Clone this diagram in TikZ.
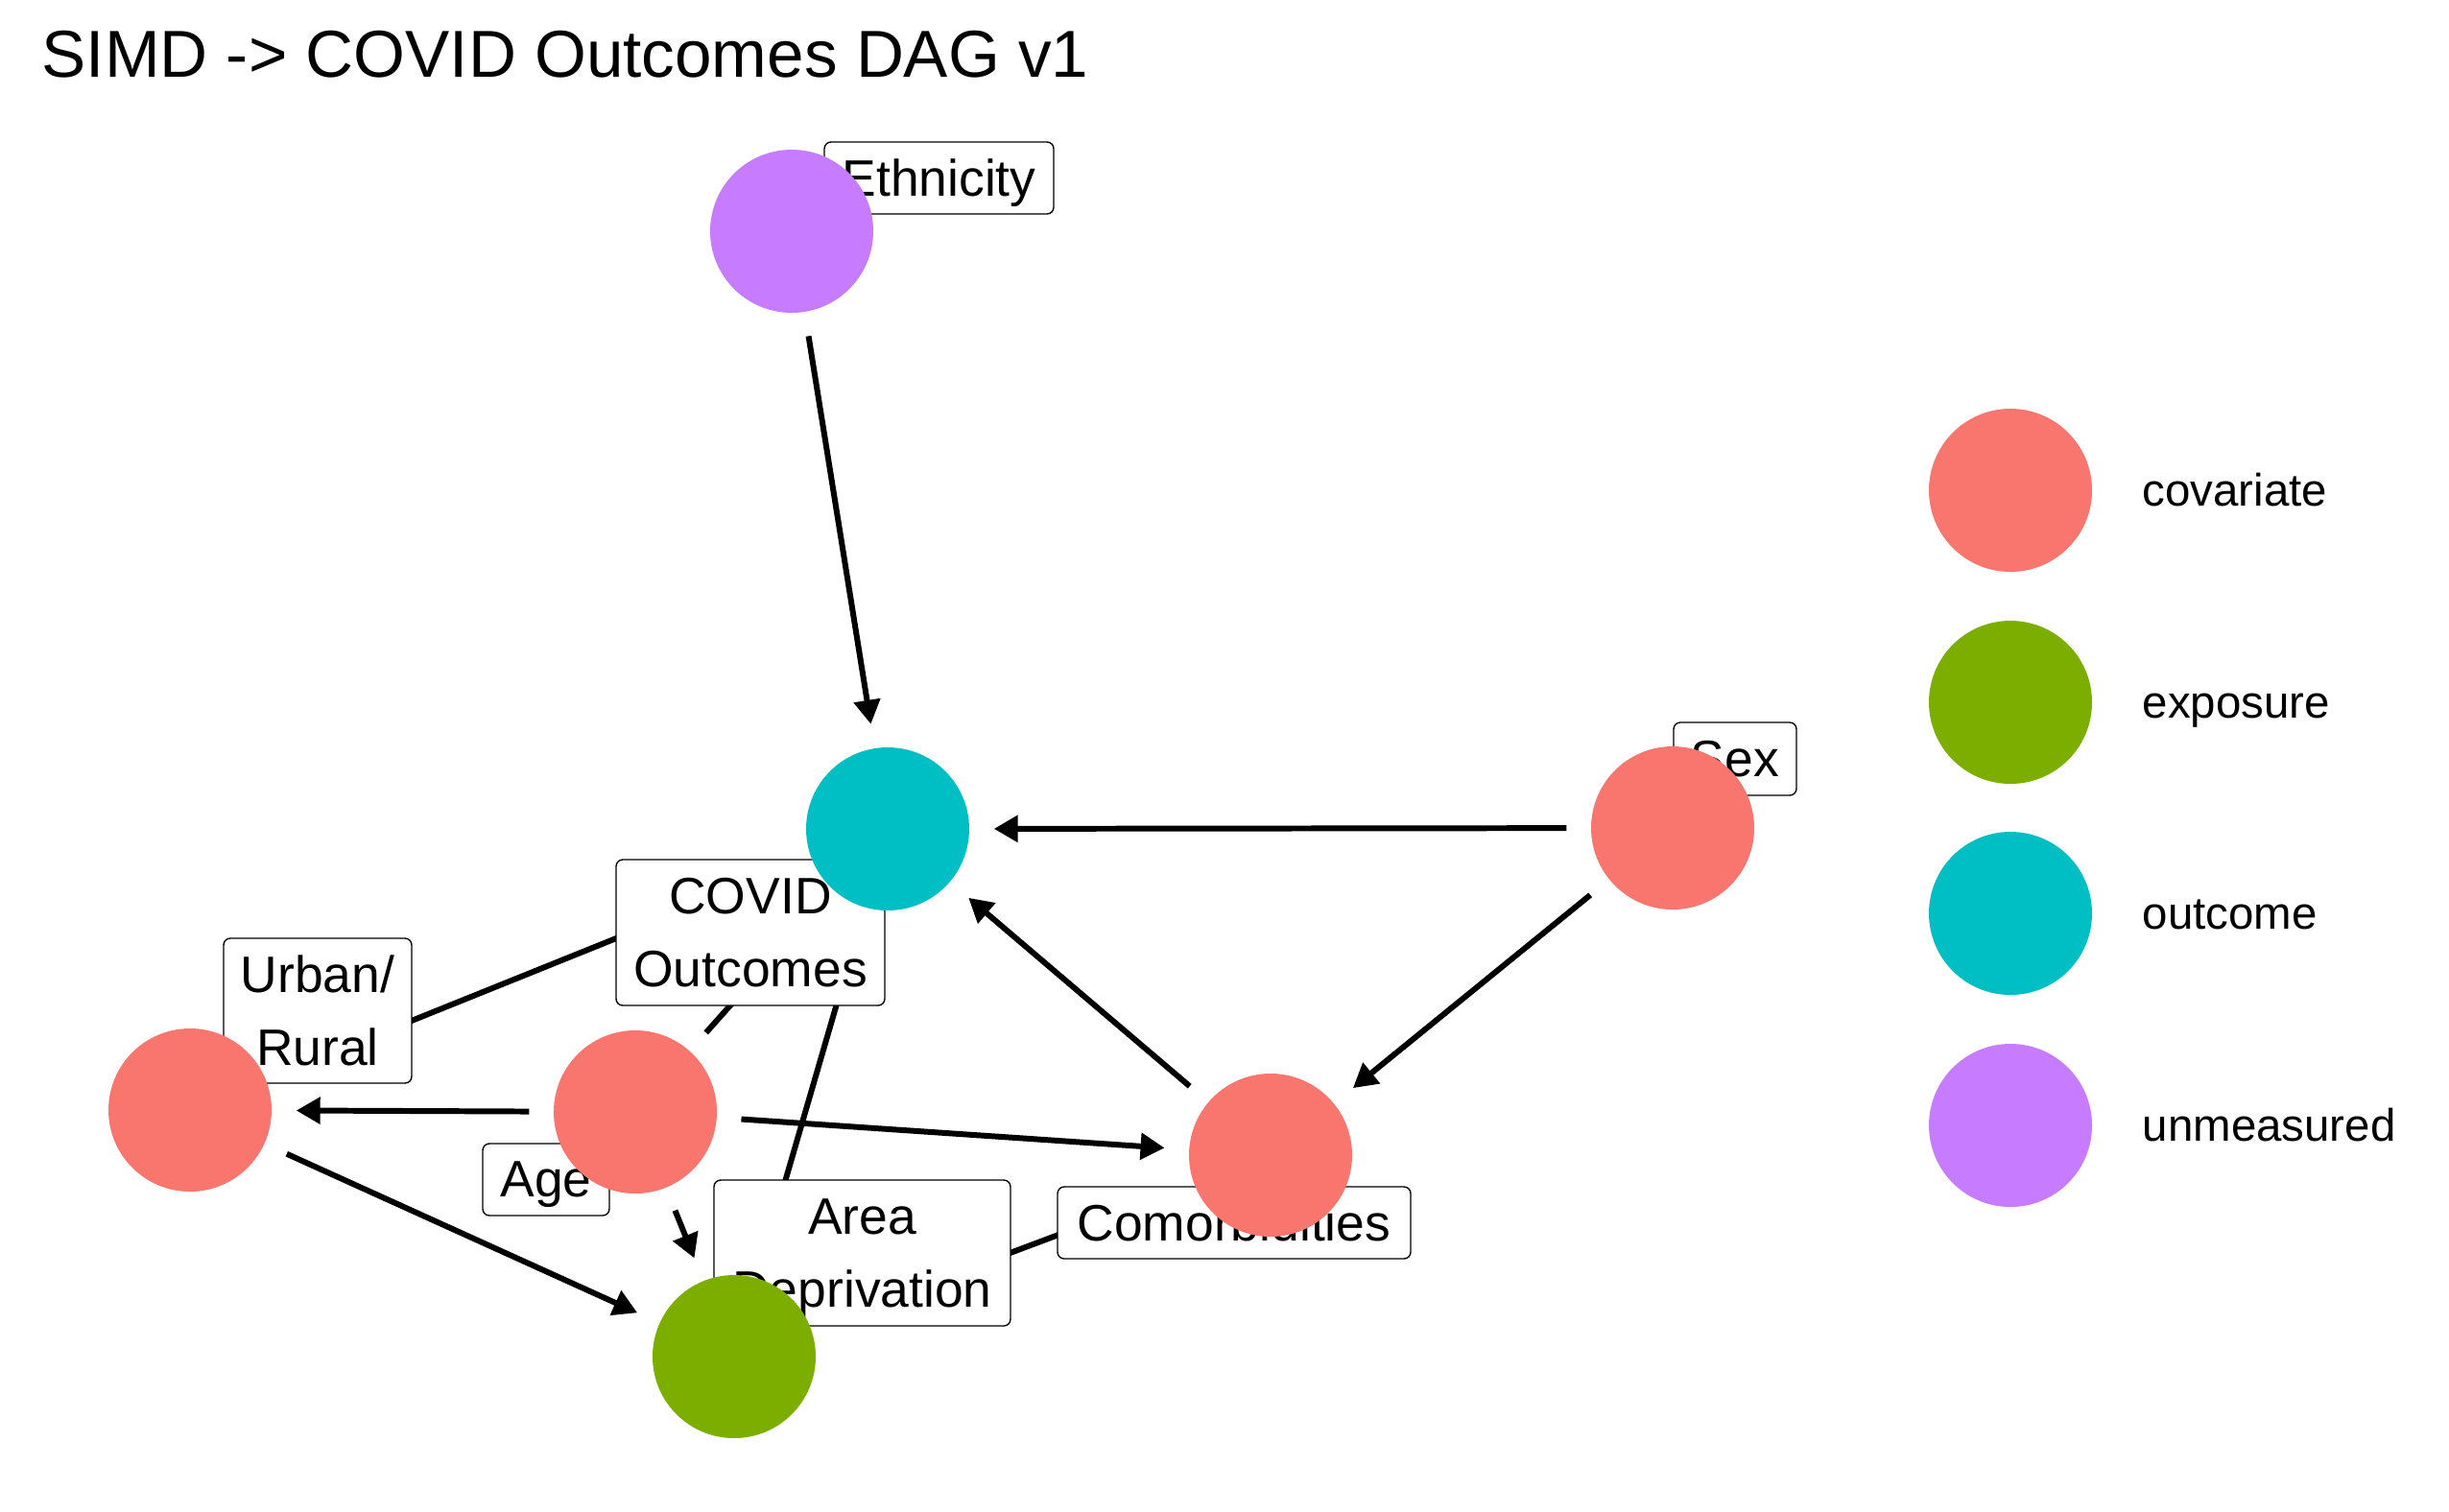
\documentclass[tikz,border=0pt]{standalone}
\usepackage{fontspec}
\setmainfont{Liberation Sans}
\definecolor{Covariate}{HTML}{F8766D}
\definecolor{Exposure}{HTML}{7CAE00}
\definecolor{Outcome}{HTML}{00BFC4}
\definecolor{Unmeasured}{HTML}{C77CFF}
\usetikzlibrary{arrows.meta, positioning}
\pgfdeclarelayer{edges}
\pgfdeclarelayer{labels}
\pgfsetlayers{edges,labels,main}

\begin{document}
\begin{tikzpicture}[
                dag/.style={circle, minimum size=1.7cm, inner sep=0pt},
                lbl/.style={draw, rounded corners=0.07cm, fill=white, line width=0.4pt, inner sep=0pt, align=center, font=\fontsize{15.2}{21.6}\selectfont},
                oneline/.style={text depth=0pt},
                edge/.style={-{Triangle[length=0.25cm, width=0.27cm]}, line width=1.7pt, shorten <=0.25cm, shorten >=0.25cm},
                key/.style={anchor=base west, inner sep=0pt, font=\fontsize{13.5}{16}\selectfont}]

                \useasboundingbox (0,0) rectangle (25.52,-15.75);

                % Title
                \node[anchor=base west, inner sep=0pt, font=\fontsize{19.7}{23}\selectfont] (title) at (0.43,-0.80) {SIMD -> COVID Outcomes DAG v1};

                % DAG nodes
                \node[dag, fill=Unmeasured] (eth) at (8.25,-2.41) {};
                \node[dag, fill=Outcome] (covid) at (9.25,-8.64) {};
                \node[dag, fill=Covariate] (sex) at (17.43,-8.63) {};
                \node[dag, fill=Covariate] (comorb) at (13.24,-12.04) {};
                \node[dag, fill=Covariate] (age) at (6.62,-11.59) {};
                \node[dag, fill=Covariate] (urban) at (1.98,-11.57) {};
                \node[dag, fill=Exposure] (simd) at (7.65,-14.14) {};

                % Labels
                \begin{pgfonlayer}{labels}
                \node[lbl, oneline, minimum width=2.39cm, minimum height=0.75cm] (ethlab) at (9.785,-1.855) {Ethnicity};
                \node[lbl, oneline, minimum width=1.28cm, minimum height=0.76cm] (sexlab) at (18.08,-7.91) {Sex};
                \node[lbl, minimum width=2.80cm, minimum height=1.52cm] (covidlab) at (7.82,-9.72) {COVID\\Outcomes};
                \node[lbl, minimum width=1.96cm, minimum height=1.51cm] (urbanlab) at (3.31,-10.535) {Urban/\\Rural};
                \node[lbl, oneline, minimum width=1.32cm, minimum height=0.75cm] (agelab) at (5.69,-12.295) {Age};
                \node[lbl, oneline, minimum width=3.09cm, minimum height=1.52cm] (simdlab) at (8.985,-13.06) {Area\\Deprivation};
                \node[lbl, oneline, minimum width=3.68cm, minimum height=0.75cm] (comorblab) at (12.86,-12.745) {Comorbidities};
                \end{pgfonlayer}

                % Edges
                \begin{pgfonlayer}{edges}
                \draw[edge] (eth) -- (covid);
                \draw[edge] (sex) -- (covid);
                \draw[edge] (sex) -- (comorb);
                \draw[edge] (comorb) -- (covid);
                \draw[edge] (age) -- (urban);
                \draw[edge] (age) -- (comorb);
                \draw[edge] (age) -- (simd);
                \draw[edge] (age) -- (covid);
                \draw[edge] (urban) -- (simd);
                \draw[edge] (urban) -- (covid);
                \draw[edge] (simd) -- (covid);
                \draw[edge] (simd) -- (comorb);
                \end{pgfonlayer}

                % Legend
                \node[dag, fill=Covariate] (legcov) at (20.95,-5.11) {};
                \node[dag, fill=Exposure] (legexp) at (20.95,-7.32) {};
                \node[dag, fill=Outcome] (legout) at (20.95,-9.52) {};
                \node[dag, fill=Unmeasured] (legunm) at (20.95,-11.73) {};
                \node[key] (keycov) at (22.32,-5.27) {covariate};
                \node[key] (keyexp) at (22.32,-7.48) {exposure};
                \node[key] (keyout) at (22.32,-9.68) {outcome};
                \node[key] (keyunm) at (22.32,-11.89) {unmeasured};
            \end{tikzpicture}
\end{document}
